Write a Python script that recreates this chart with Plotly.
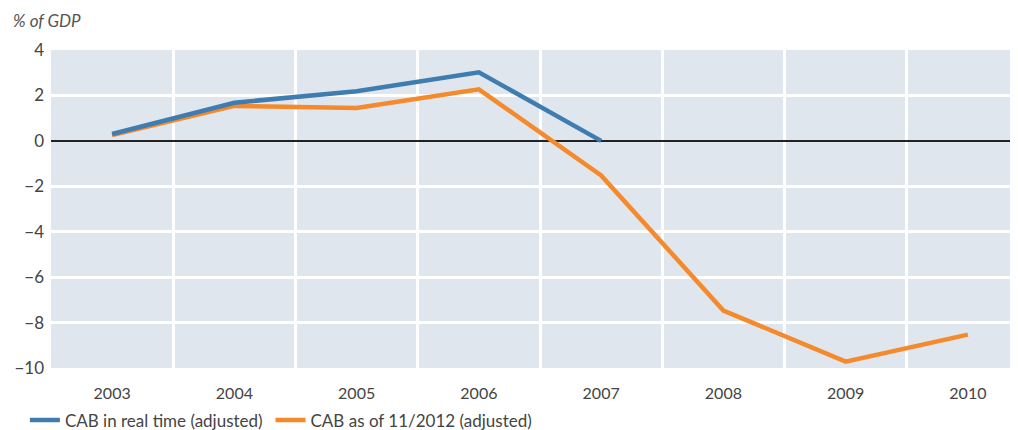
import plotly.graph_objects as go

years = [2003, 2004, 2005, 2006, 2007, 2008, 2009, 2010]
cab_real_time = [0.3, 1.68, 2.18, 3.02, 0.0, None, None, None]
cab_nov_2012 = [0.25, 1.54, 1.45, 2.27, -1.52, -7.47, -9.72, -8.53]
y_ticks = [-10, -8, -6, -4, -2, 0, 2, 4]
y_labels = ["\u221210", "\u22128", "\u22126", "\u22124", "\u22122", "0", "2", "4"]

blue = "#3F7DB0"
orange = "#F58A2C"

fig = go.Figure()
# orange drawn first so the blue line sits on top
fig.add_trace(go.Scatter(x=years, y=cab_nov_2012, mode="lines",
                         name="CAB as of 11/2012 (adjusted)",
                         line=dict(color=orange, width=4.5), legend="legend2"))
fig.add_trace(go.Scatter(x=years, y=cab_real_time, mode="lines",
                         name="CAB in real time (adjusted)",
                         line=dict(color=blue, width=4.5), legend="legend"))

legend_style = dict(orientation="h", xanchor="left", y=-0.165, yanchor="middle",
                    font=dict(size=17, color="#444444"), bgcolor="rgba(0,0,0,0)")

# the page body adds an 8px offset, so the figure is sized to the rest
fig.update_layout(
    width=1010, height=422,
    margin=dict(l=43, r=0, t=42, b=62, autoexpand=False),
    paper_bgcolor="white",
    plot_bgcolor="#E0E6EE",
    font=dict(family="Lato", size=16, color="#444444"),
    showlegend=True,
    legend=dict(x=-0.027, **legend_style),
    legend2=dict(x=0.227, **legend_style),
    annotations=[dict(text="<i>% of GDP</i>", xref="paper", yref="paper",
                      x=-0.041, y=1.094, xanchor="left", yanchor="middle",
                      showarrow=False, font=dict(size=17, color="#555555"))],
)

fig.update_xaxes(
    range=[2002.5, 2010.41],
    tickvals=years, ticktext=[str(y) for y in years],
    showgrid=False, zeroline=False, ticks="", ticklabelstandoff=14,
    minor=dict(tick0=2003.5, dtick=1, showgrid=True, gridcolor="white", gridwidth=2.5),
    tickfont=dict(size=16),
)
fig.update_yaxes(
    range=[-10, 4],
    tickvals=y_ticks, ticktext=y_labels,
    showgrid=True, gridcolor="white", gridwidth=2.5,
    zeroline=True, zerolinecolor="#222222", zerolinewidth=2,
    ticks="", ticklabelstandoff=6, tickfont=dict(size=17),
)

fig.write_html("out.html")
